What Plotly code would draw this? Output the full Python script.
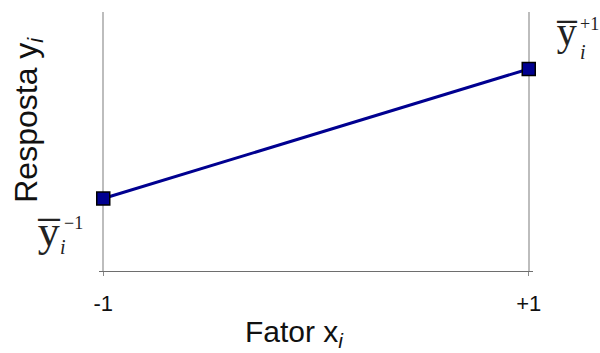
import plotly.graph_objects as go

# Factor levels and mean responses at each level
factor_levels = [-1, 1]
mean_response = [2.8, 7.8]
tick_labels = ["-1", "+1"]

NAVY = "#000090"

fig = go.Figure()

fig.add_trace(go.Scatter(
    x=factor_levels,
    y=mean_response,
    mode="lines+markers",
    line=dict(color=NAVY, width=3),
    marker=dict(symbol="square", size=13, color=NAVY,
                line=dict(color="#000000", width=1.5)),
    showlegend=False,
    cliponaxis=False,
))

fig.update_xaxes(
    range=[-1.02, 1.02],
    tickvals=factor_levels,
    ticktext=tick_labels,
    showgrid=True,
    gridcolor="#bdbdbd",
    gridwidth=1.5,
    zeroline=False,
    showline=True,
    linecolor="#6e6e6e",
    linewidth=1,
    ticks="outside",
    ticklen=4,
    tickcolor="#8a8a8a",
    ticklabelstandoff=9,
    tickfont=dict(family="Liberation Sans, Arial", size=22, color="#111111"),
)
fig.update_yaxes(
    range=[0, 10],
    showgrid=False,
    zeroline=False,
    showline=False,
    showticklabels=False,
    ticks="",
)

serif = "Liberation Serif, Times New Roman"
sans = "Liberation Sans, Arial"
TXT = "#222222"


def level_label(x, y, sup, size, base, sub, sup_pos):
    """Overlined y with stacked italic subscript i and a superscript."""
    common = dict(xref="x", yref="y", x=x, y=y, showarrow=False,
                  xanchor="center", yanchor="middle")
    return [
        dict(common, text="y\u0305", xshift=base[0], yshift=base[1],
             font=dict(family=serif, size=size, color=TXT)),
        dict(common, text="<i>i</i>", xshift=sub[0], yshift=sub[1],
             font=dict(family=serif, size=20, color=TXT)),
        dict(common, text=sup, xshift=sup_pos[0], yshift=sup_pos[1],
             font=dict(family=serif, size=18, color=TXT)),
    ]


annotations = [
    # axis titles
    dict(text="Fator x<sub><i>i</i></sub>", xref="paper", yref="paper",
         x=0.45, y=-0.24, xanchor="center", yanchor="middle", showarrow=False,
         font=dict(family=sans, size=30, color="#111111")),
    dict(text="Resposta y<sub><i>i</i></sub>", xref="paper", yref="paper",
         x=-0.163, y=0.585, xanchor="center", yanchor="middle", showarrow=False,
         textangle=-90, font=dict(family=sans, size=32, color="#111111")),
]
annotations += level_label(factor_levels[0], mean_response[0], "\u22121",
                           44, (-54, -33), (-40, -49), (-30, -25))
annotations += level_label(factor_levels[1], mean_response[1], "+1",
                           40, (38, 37), (54, 17), (61, 45))

fig.update_layout(
    width=600, height=353,
    margin=dict(l=99, r=67, t=12, b=82),
    paper_bgcolor="white",
    plot_bgcolor="white",
    annotations=annotations,
)

fig.write_html("out.html")
